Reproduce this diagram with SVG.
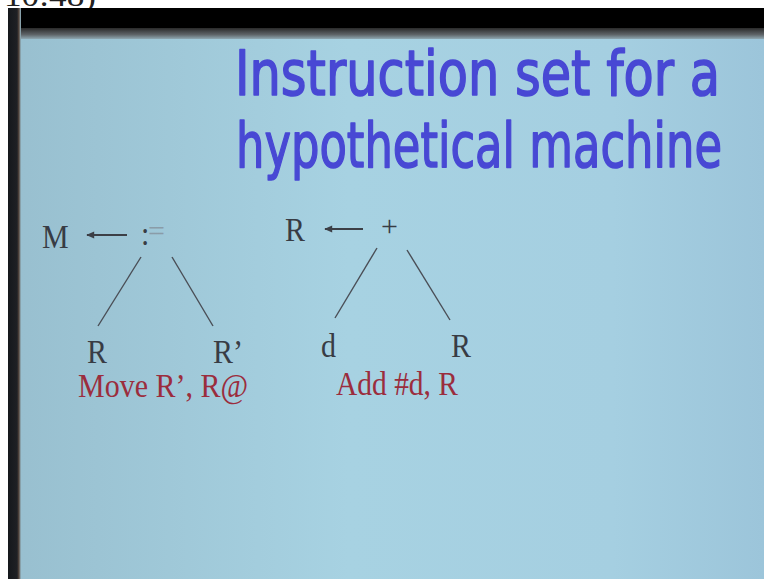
<svg xmlns="http://www.w3.org/2000/svg" width="764" height="579" viewBox="0 0 764 579">
  <defs>
    <linearGradient id="bg" x1="0" y1="0" x2="1" y2="0">
      <stop offset="0" stop-color="#98bfcf"/>
      <stop offset="0.45" stop-color="#a7d2e2"/>
      <stop offset="0.8" stop-color="#a5cfe1"/>
      <stop offset="1" stop-color="#9cc5da"/>
    </linearGradient>
    <linearGradient id="band" x1="0" y1="0" x2="0" y2="1">
      <stop offset="0" stop-color="#2a2a2a"/>
      <stop offset="0.6" stop-color="#5e6468"/>
      <stop offset="1" stop-color="#8fa8b2"/>
    </linearGradient>
    <linearGradient id="edge" x1="0" y1="0" x2="1" y2="0">
      <stop offset="0" stop-color="#15181c"/>
      <stop offset="0.7" stop-color="#1e2024"/>
      <stop offset="0.85" stop-color="#5a4a40"/>
      <stop offset="1" stop-color="#98bfcf"/>
    </linearGradient>
    <marker id="ah" viewBox="0 0 10 10" refX="1" refY="5" markerWidth="4.5" markerHeight="4" orient="auto">
      <path d="M0,5 L10,0.5 L10,9.5 Z" fill="#3c3f46"/>
    </marker>
    <style>
      .t { font-family: "Liberation Serif", "Times New Roman", serif; font-size: 30px; fill: #383c44; }
      .red { font-family: "Liberation Serif", "Times New Roman", serif; font-size: 30px; fill: #9b2d3d; }
      .title { font-family: "DejaVu Sans", "Noto Sans", sans-serif; font-size: 63px; fill: #4848d4; stroke: #4848d4; stroke-width: 1.6; stroke-linejoin: round; }
      .edge { stroke: #4a4e56; stroke-width: 1.4; fill: none; }
      .arr { stroke: #3c3f46; stroke-width: 2; fill: none; }
    </style>
  </defs>

  <!-- frame -->
  <rect x="0" y="0" width="764" height="579" fill="#ffffff"/>
  <text x="4" y="6" font-family="Liberation Serif, serif" font-size="32" fill="#222" textLength="92" lengthAdjust="spacingAndGlyphs">10:48)</text>
  <rect x="8" y="8" width="756" height="571" fill="url(#bg)"/>
  <rect x="8" y="8" width="756" height="21" fill="#000000"/>
  <rect x="8" y="28" width="756" height="11" fill="url(#band)"/>
  <rect x="8" y="8" width="13" height="571" fill="url(#edge)"/>

  <!-- title -->
  <g id="title">
    <text class="title" x="235" y="95" textLength="485" lengthAdjust="spacingAndGlyphs">Instruction set for a</text>
    <text class="title" x="236" y="167" textLength="486" lengthAdjust="spacingAndGlyphs">hypothetical machine</text>
  </g>

  <!-- connectors -->
  <g id="connectors">
    <line class="arr" x1="87" y1="235" x2="127" y2="235" marker-start="url(#ah)"/>
    <line class="edge" x1="141" y1="257" x2="98" y2="326"/>
    <line class="edge" x1="172" y1="257" x2="213" y2="326"/>
    <line class="arr" x1="325" y1="229" x2="363" y2="229" marker-start="url(#ah)"/>
    <line class="edge" x1="377" y1="248" x2="335" y2="318"/>
    <line class="edge" x1="407" y1="250" x2="450" y2="320"/>
  </g>

  <!-- left tree -->
  <g id="nodeM"><text class="t" transform="translate(42 248) scale(1 1.15)">M</text></g>
  <g id="nodeAssign">
    <text class="t" transform="translate(141 245) scale(1 1.15)">:</text>
    <text class="t" transform="translate(148 241)" style="fill:#8a9ca8">=</text>
  </g>
  <g id="nodeR1"><text class="t" transform="translate(87 363) scale(1 1.15)">R</text></g>
  <g id="nodeR2"><text class="t" transform="translate(213 363) scale(1 1.15)">R’</text></g>
  <g id="label1"><text class="red" transform="translate(78 397) scale(1 1.15)">Move R’, R@</text></g>

  <!-- right tree -->
  <g id="nodeR3"><text class="t" transform="translate(285 241) scale(1 1.15)">R</text></g>
  <g id="nodePlus"><text class="t" transform="translate(381 236)">+</text></g>
  <g id="nodeD"><text class="t" transform="translate(321 357) scale(1 1.15)">d</text></g>
  <g id="nodeR4"><text class="t" transform="translate(451 357) scale(1 1.15)">R</text></g>
  <g id="label2"><text class="red" transform="translate(336 395) scale(1 1.15)" textLength="122" lengthAdjust="spacingAndGlyphs">Add #d, R</text></g>
</svg>
